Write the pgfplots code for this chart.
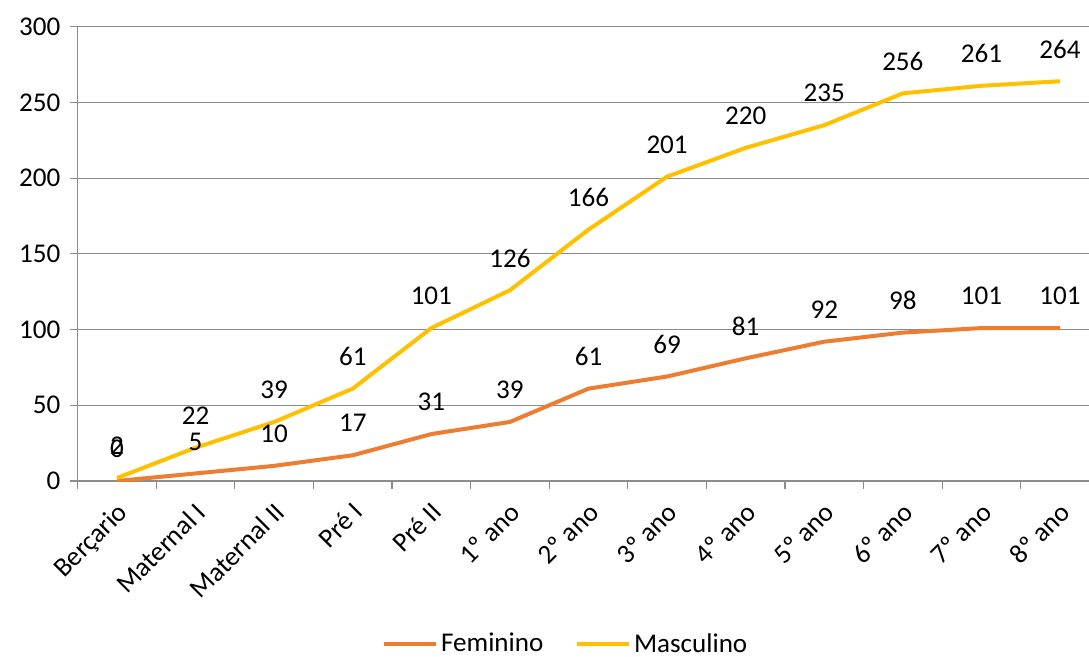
\documentclass[border=0pt]{standalone}
\usepackage{fontspec}
\setmainfont{Carlito}
\usepackage{pgfplots}
\pgfplotsset{compat=1.18}

\definecolor{fem}{HTML}{ED7D31}
\definecolor{masc}{HTML}{FFC000}
\definecolor{gridgray}{HTML}{8C8C8C}

\newcommand{\chartfont}{\fontsize{20.3bp}{23bp}\selectfont}

\begin{document}
\begin{tikzpicture}[font=\chartfont]
\begin{axis}[
  /pgf/number format/assume math mode=true,
  scale only axis,
  width=758.5bp, height=340.7bp,
  xmin=-0.5, xmax=12.37,
  ymin=0, ymax=300,
  axis lines*=left,
  axis line style={gridgray, line width=0.9bp},
  ytick={0,50,...,300},
  ymajorgrids,
  grid style={gridgray, line width=0.9bp},
  tick style={gridgray, line width=0.9bp},
  tick align=outside,
  major tick length=6bp,
  tick label style={font=\chartfont, text=black},
  yticklabel style={xshift=-3.5bp},
  xtick={-0.5,0.5,...,12.5},
  xticklabels={},
  extra x ticks={0,1,...,12},
  extra x tick labels={Berçario,Maternal I,Maternal II,Pré I,Pré II,1º ano,2º ano,3º ano,4º ano,5º ano,6º ano,7º ano,8º ano},
  extra x tick style={major tick length=0pt, grid=none,
    xticklabel style={xshift=-1bp, yshift=-10bp, rotate=45, anchor=north east, font=\chartfont, text=black}},
  nodes near coords,
  every node near coord/.append style={anchor=center, yshift=24bp, text=black, font=\chartfont},
  legend columns=2,
  legend style={at={(0.483,-0.358)}, anchor=center, draw=none, fill=none, font=\chartfont,
    inner sep=1bp,
    /tikz/every even column/.append style={column sep=22bp}},
  legend image code/.code={\draw[#1, line width=3bp] (0bp,0bp) -- (39bp,0bp);},
]
\coordinate (O) at (rel axis cs:0,0);

% Feminino
\addplot[fem, line width=3bp, line join=round] coordinates {
  (0,0) (1,5) (2,10) (3,17) (4,31) (5,39) (6,61)
  (7,69) (8,81) (9,92) (10,98) (11,101) (12,101)
};
\addlegendentry{Feminino}

% Masculino
\addplot[masc, line width=3bp, line join=round] coordinates {
  (0,2) (1,22) (2,39) (3,61) (4,101) (5,126) (6,166)
  (7,201) (8,220) (9,235) (10,256) (11,261) (12,264)
};
\addlegendentry{Masculino}
\end{axis}
\pgfresetboundingbox
\path[use as bounding box] (O) ++(-58.3bp,-132bp) rectangle ++(816.75bp,492.75bp);
\end{tikzpicture}
\end{document}
